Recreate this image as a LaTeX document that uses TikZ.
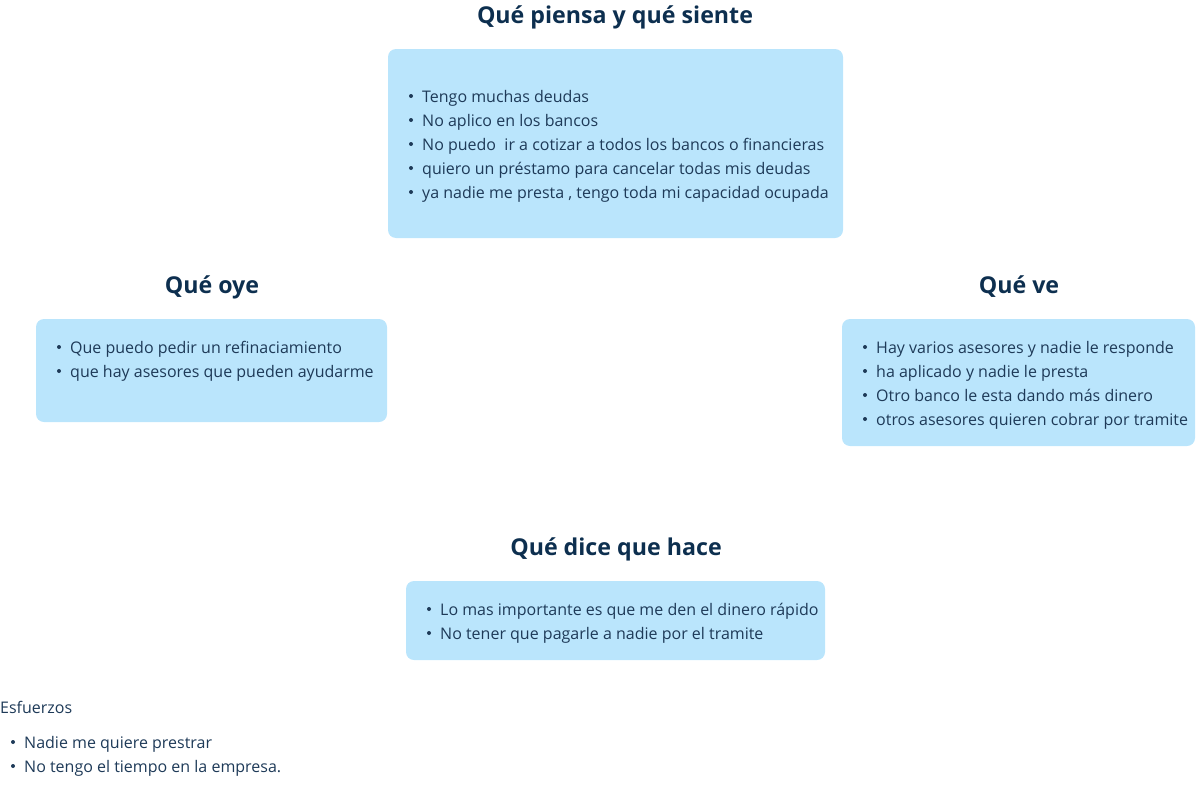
\documentclass[tikz,border=0pt]{standalone}
\usepackage{fontspec}
\setmainfont{Open Sans}
\definecolor{boxfill}{HTML}{BAE5FC}
\definecolor{titlecol}{HTML}{0D2F4F}
\definecolor{bodycol}{HTML}{1E3A58}
\tikzset{
  card/.style={fill=boxfill, rounded corners=8pt, draw=none},
  heading/.style={text=titlecol, font=\fontsize{23.2}{27}\selectfont\bfseries, inner sep=0pt, yshift=-2pt},
  itemtext/.style={text=bodycol, font=\fontsize{16}{19}\selectfont, anchor=mid west, inner sep=0pt, yshift=-3.5pt},
  dot/.style={circle, fill=bodycol, inner sep=0pt, minimum size=4pt},
}
% one bulleted line: #1 name, #2 bullet x, #3 text x, #4 y, #5 text
\newcommand{\bulletline}[5]{%
  \node[dot] (#1d) at (#2,#4) {};
  \node[itemtext] (#1) at (#3,#4) {#5};
}
\begin{document}
\begin{tikzpicture}[x=1pt,y=-1pt]
\useasboundingbox (0,0) rectangle (1196,787);

% --- Qué piensa y qué siente
\node[heading] (t1) at (615,15) {Qué piensa y qué siente};
\path[card] (388,49) rectangle (843,238);
\bulletline{p1}{411}{422}{96}{Tengo muchas deudas}
\bulletline{p2}{411}{422}{120}{No aplico en los bancos}
\bulletline{p3}{411}{422}{144}{No puedo \ ir a cotizar a todos los bancos o financieras}
\bulletline{p4}{411}{422}{168}{quiero un préstamo para cancelar todas mis deudas}
\bulletline{p5}{411}{422}{192}{ya nadie me presta , tengo toda mi capacidad ocupada}

% --- Qué oye
\node[heading] (t2) at (212,285) {Qué oye};
\path[card] (36,319) rectangle (387,422);
\bulletline{o1}{59}{70}{347}{Que puedo pedir un refinaciamiento}
\bulletline{o2}{59}{70}{371}{que hay asesores que pueden ayudarme}

% --- Qué ve
\node[heading] (t3) at (1019,285) {Qué ve};
\path[card] (842,319) rectangle (1195,446);
\bulletline{v1}{865}{876}{347}{Hay varios asesores y nadie le responde}
\bulletline{v2}{865}{876}{371}{ha aplicado y nadie le presta}
\bulletline{v3}{865}{876}{395}{Otro banco le esta dando más dinero}
\bulletline{v4}{865}{876}{419}{otros asesores quieren cobrar por tramite}

% --- Qué dice que hace
\node[heading] (t4) at (616,547) {Qué dice que hace};
\path[card] (406,581) rectangle (825,660);
\bulletline{h1}{429}{440}{609}{Lo mas importante es que me den el dinero rápido}
\bulletline{h2}{429}{440}{633}{No tener que pagarle a nadie por el tramite}

% --- Esfuerzos
\node[itemtext] (e0) at (0,707) {Esfuerzos};
\bulletline{e1}{13}{24}{742}{Nadie me quiere prestrar}
\bulletline{e2}{13}{24}{766}{No tengo el tiempo en la empresa.}
\end{tikzpicture}
\end{document}
